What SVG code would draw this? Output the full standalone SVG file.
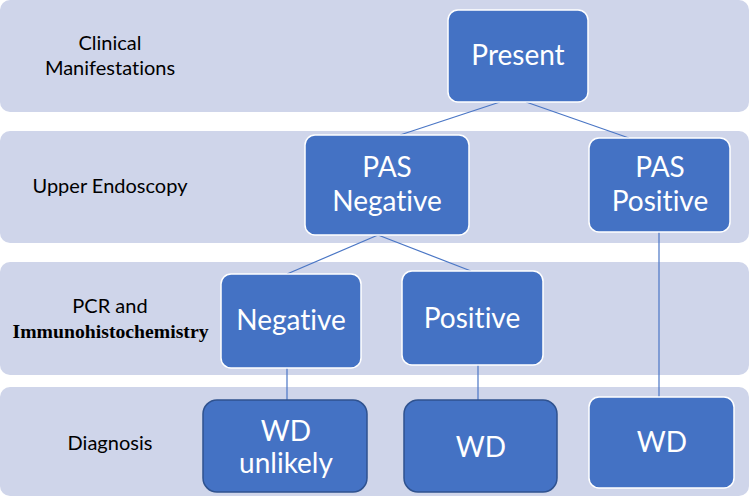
<svg xmlns="http://www.w3.org/2000/svg" width="750" height="499" viewBox="0 0 750 499">
<style>
.band{fill:#cfd5ea;}
.node{fill:#4472c4;stroke:#ffffff;stroke-width:1.5;}
.node.dark{stroke:#2f528f;}
.nt{font-family:Lato,"Open Sans","Liberation Sans",sans-serif;font-size:28px;fill:#ffffff;text-anchor:middle;font-variant-ligatures:none;}
.lab{font-family:Lato,"Open Sans","Liberation Sans",sans-serif;font-size:20px;fill:#000000;text-anchor:middle;font-variant-ligatures:none;}
.labs{font-family:"Liberation Serif","DejaVu Serif",serif;font-size:19px;font-weight:bold;fill:#000000;text-anchor:middle;}
.conn line{stroke:#4a76c5;stroke-width:1.2;}
</style>
<g id="bands">
<rect class="band" x="0" y="0" width="749" height="112" rx="10"/>
<rect class="band" x="0" y="131" width="749" height="112" rx="10"/>
<rect class="band" x="0" y="262" width="749" height="113" rx="10"/>
<rect class="band" x="0" y="387" width="749" height="109" rx="10"/>
</g>
<g id="row-labels">
<text class="lab" x="110" y="50">Clinical</text>
<text class="lab" x="110" y="75">Manifestations</text>
<text class="lab" x="110" y="193">Upper Endoscopy</text>
<text class="lab" x="110" y="313">PCR and</text>
<text class="labs" x="110.5" y="338" textLength="196" lengthAdjust="spacingAndGlyphs">Immunohistochemistry</text>
<text class="lab" x="110" y="450">Diagnosis</text>
</g>
<g id="connectors" class="conn">
<line x1="500" y1="102" x2="400" y2="135"/>
<line x1="526" y1="102" x2="629" y2="138"/>
<line x1="378" y1="235" x2="287" y2="274"/>
<line x1="378" y1="235" x2="471" y2="271"/>
<line x1="659" y1="232" x2="659" y2="397"/>
<line x1="287" y1="368" x2="287" y2="400"/>
<line x1="478" y1="365" x2="478" y2="400"/>
</g>
<g id="present">
<rect class="node" x="448" y="10" width="140" height="92" rx="10"/>
<text class="nt" x="518" y="65">Present</text>
</g>
<g id="pas-negative">
<rect class="node" x="305" y="135" width="164" height="100" rx="10"/>
<text class="nt" x="387" y="177">PAS</text>
<text class="nt" x="387" y="211">Negative</text>
</g>
<g id="pas-positive">
<rect class="node" x="589" y="138" width="141" height="94" rx="10"/>
<text class="nt" x="660" y="177">PAS</text>
<text class="nt" x="660" y="211">Positive</text>
</g>
<g id="negative">
<rect class="node" x="221" y="274" width="140" height="94" rx="10"/>
<text class="nt" x="291" y="330">Negative</text>
</g>
<g id="positive">
<rect class="node" x="402" y="271" width="141" height="94" rx="10"/>
<text class="nt" x="472" y="328">Positive</text>
</g>
<g id="wd-unlikely">
<rect class="node dark" x="203" y="400" width="164" height="92" rx="14"/>
<text class="nt" x="286" y="441">WD</text>
<text class="nt" x="286" y="473">unlikely</text>
</g>
<g id="wd-middle">
<rect class="node dark" x="404" y="400" width="153" height="92" rx="14"/>
<text class="nt" x="481" y="457">WD</text>
</g>
<g id="wd-right">
<rect class="node" x="589" y="397" width="145" height="91" rx="10"/>
<text class="nt" x="662" y="452">WD</text>
</g>
</svg>
